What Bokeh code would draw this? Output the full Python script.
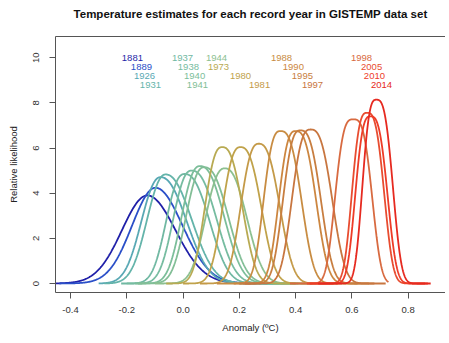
import numpy as np
from bokeh.plotting import figure
from bokeh.models import Range1d, FixedTicker, ColumnDataSource, LinearAxis
from bokeh.embed import file_html
from bokeh.resources import INLINE
from bokeh.core.properties import value

# ---- data ----
years = [1881, 1889, 1926, 1931, 1937, 1938, 1940, 1941, 1944, 1973,
         1980, 1981, 1988, 1990, 1995, 1997, 1998, 2005, 2010, 2014]
peak_x = [-0.127, -0.098, -0.080, -0.062, 0.005, 0.030, 0.060, 0.075, 0.148, 0.139,
          0.204, 0.269, 0.346, 0.400, 0.417, 0.453, 0.605, 0.654, 0.666, 0.687]
peak_y = [3.90, 4.24, 4.71, 4.83, 4.85, 5.00, 5.20, 5.15, 5.10, 6.04,
          6.04, 6.19, 6.75, 6.75, 6.78, 6.82, 7.27, 7.56, 7.40, 8.14]
width_left = [0.090, 0.083, 0.066, 0.064, 0.062, 0.062, 0.062, 0.062, 0.065, 0.058,
              0.060, 0.060, 0.056, 0.056, 0.058, 0.062, 0.060, 0.050, 0.050, 0.046]
width_right = [0.100, 0.096, 0.090, 0.090, 0.085, 0.085, 0.082, 0.082, 0.075, 0.068,
               0.070, 0.070, 0.070, 0.068, 0.068, 0.072, 0.062, 0.056, 0.056, 0.054]
shape_k = [2.0, 2.0, 2.2, 2.2, 2.4, 2.4, 2.4, 2.4, 2.4, 2.6,
           2.6, 2.6, 2.8, 2.8, 2.8, 2.8, 3.2, 3.0, 3.0, 3.0]
curve_lo = [-0.46, -0.44, -0.30, -0.28, -0.22, -0.20, -0.17, -0.16, -0.10, -0.06,
            0.00, 0.06, 0.12, 0.18, 0.20, 0.22, 0.38, 0.44, 0.45, 0.48]
curve_hi = [0.24, 0.26, 0.32, 0.34, 0.36, 0.38, 0.40, 0.41, 0.46, 0.40,
            0.48, 0.55, 0.62, 0.66, 0.68, 0.72, 0.73, 0.86, 0.87, 0.88]
label_x = [-0.180, -0.148, -0.137, -0.116, -0.002, 0.019, 0.041, 0.051, 0.119, 0.126,
           0.204, 0.272, 0.350, 0.392, 0.424, 0.460, 0.634, 0.670, 0.680, 0.705]
label_y = [10.0, 9.6, 9.2, 8.8, 10.0, 9.6, 9.2, 8.8, 10.0, 9.6,
           9.2, 8.8, 10.0, 9.6, 9.2, 8.8, 10.0, 9.6, 9.2, 8.8]
colors = ["#1f1fa8", "#2a4fc8", "#58a8b4", "#64b4aa", "#70b8a2", "#76bca0", "#7cbe9a", "#82be96",
          "#8cc090", "#b8aa52", "#c0a24a", "#c49a48", "#c88c42", "#cc8640", "#c87e40", "#c87640",
          "#d86a40", "#e84c30", "#ee3c28", "#e62a20"]
x_ticks = [-0.4, -0.2, 0.0, 0.2, 0.4, 0.6, 0.8]
x_tick_labels = ["-0.4", "-0.2", "0.0", "0.2", "0.4", "0.6", "0.8"]
y_ticks = [0, 2, 4, 6, 8, 10]
title_text = "Temperature estimates for each record year in GISTEMP data set"

FONT = "Liberation Sans"

p = figure(frame_width=390, frame_height=256, output_backend="svg", toolbar_location=None,
           x_range=Range1d(-0.4533, 0.9326), y_range=Range1d(-0.399, 10.94),
           min_border_left=55, min_border_right=0, min_border_top=36, min_border_bottom=51)
p.title = None
p.outline_line_color = None
p.xgrid.visible = False
p.ygrid.visible = False
p.background_fill_color = "white"
p.border_fill_color = "white"

axis_col = "#555555"
for ax in (p.xaxis[0], p.yaxis[0]):
    ax.axis_line_color = axis_col
    ax.major_tick_line_color = axis_col
    ax.minor_tick_line_color = None
    ax.major_tick_in = 0
    ax.major_tick_out = 6
    ax.major_label_text_font = FONT
    ax.major_label_text_font_size = "9.5px"
    ax.major_label_text_color = "#333333"
    ax.axis_label_text_font = FONT
    ax.axis_label_text_font_size = "9.5px"
    ax.axis_label_text_font_style = "normal"
    ax.axis_label_text_color = "#222222"

p.xaxis[0].ticker = FixedTicker(ticks=x_ticks)
p.xaxis[0].major_label_overrides = {t: s for t, s in zip(x_ticks, x_tick_labels)}
p.xaxis[0].major_label_standoff = 8
p.xaxis[0].axis_label = "Anomaly (ºC)"
p.xaxis[0].axis_label_standoff = 6

p.yaxis[0].ticker = FixedTicker(ticks=y_ticks)
p.yaxis[0].major_label_orientation = "vertical"
p.yaxis[0].major_label_standoff = 10
p.yaxis[0].axis_label = "Relative likelihood"
p.yaxis[0].axis_label_standoff = 12

# top border line of the plot box, carrying the chart title as its label
top_axis = LinearAxis(ticker=FixedTicker(ticks=[]), axis_line_color=axis_col,
                      major_tick_line_color=None, minor_tick_line_color=None,
                      major_tick_out=0, major_label_standoff=0,
                      major_label_text_color=None, major_label_text_font_size="1px",
                      axis_label=title_text, axis_label_standoff=17,
                      axis_label_text_font=FONT, axis_label_text_font_size="11.5px",
                      axis_label_text_font_style="bold", axis_label_text_color="#111111")
p.add_layout(top_axis, "above")

for c, h, wl, wr, k, lo, hi, col in zip(peak_x, peak_y, width_left, width_right, shape_k,
                                         curve_lo, curve_hi, colors):
    xs = np.linspace(lo, hi, 400)
    w = np.where(xs < c, wl, wr)
    ys = h * np.exp(-0.5 * np.abs((xs - c) / w) ** k)
    p.line(xs, ys, line_color=col, line_width=1.8)

src = ColumnDataSource(dict(x=label_x, y=label_y, t=[str(y) for y in years], c=colors))
p.text(x="x", y="y", text="t", text_color="c", source=src, text_font=value(FONT),
       text_font_size="9.5px", text_align="center", text_baseline="middle")

open("out.html", "w").write(file_html(p, INLINE))
